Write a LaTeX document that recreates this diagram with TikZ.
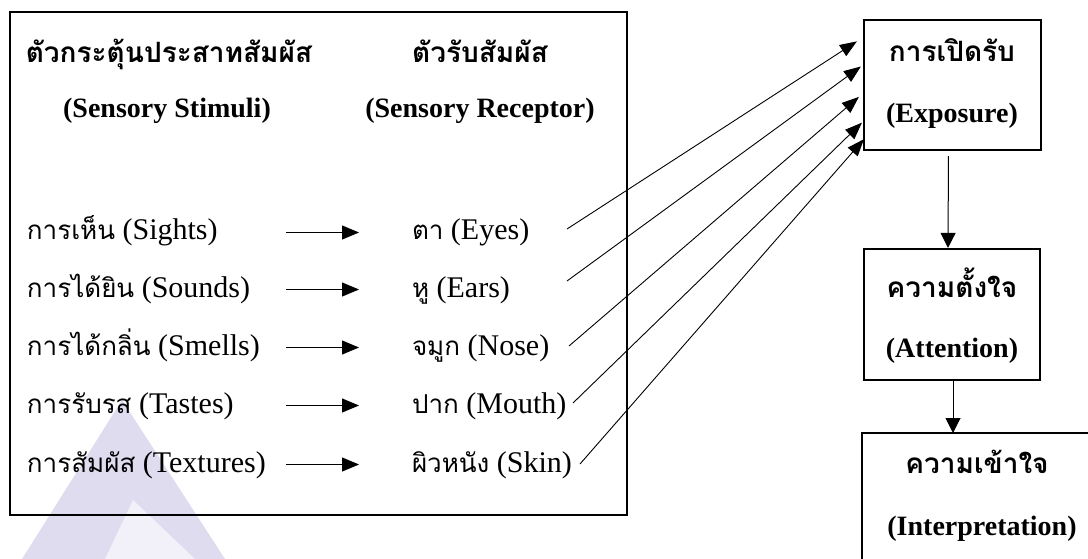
\documentclass[tikz,border=0pt]{standalone}
\usepackage{fontspec}
\setmainfont{Liberation Serif}
\newfontfamily\thai[Script=Thai]{Loma}
\usetikzlibrary{arrows.meta,calc}
\definecolor{wmA}{RGB}{224,220,240}
\definecolor{wmB}{RGB}{242,240,248}
\newcommand\thr[1]{{\thai\fontsize{26}{30}\selectfont #1}}
\newcommand\thb[1]{{\thai\bfseries\fontsize{28}{32}\selectfont #1}}
\tikzset{
 frame/.style={draw, line width=2.4pt, inner sep=0pt},
 box/.style={draw, line width=2.2pt, inner sep=0pt},
 row/.style={anchor=base west, inner sep=0pt, outer sep=0pt, text height=22pt, text depth=7pt, font=\fontsize{30}{36}\selectfont},
 head/.style={anchor=base, inner sep=0pt, font=\bfseries\fontsize{28}{34}\selectfont},
 smallarr/.style={-{Triangle[length=17pt,width=14pt]}, line width=1pt},
 longarr/.style={-{Triangle[length=17pt,width=13pt]}, line width=0.9pt},
 vertarr/.style={-{Triangle[length=15pt,width=15pt]}, line width=1pt},
}
\begin{document}
\begin{tikzpicture}[x=1pt,y=-1pt]
\useasboundingbox (0,0) rectangle (1088,559);
\fill[white] (0,0) rectangle (1088,559);
% watermark
\fill[wmA] (22,559) -- (122,400) -- (225,559) -- cycle;
\fill[wmB] (105,559) -- (133,500) -- (195,559) -- cycle;
% left frame
\node[frame, minimum width=617pt, minimum height=503pt] (frame) at (318.5,263.5) {};
\node[head] (h1) at (169,63) {\thb{ตัวกระตุ้นประสาทสัมผัส}};
\node[head] (h1e) at (167,118) {(Sensory Stimuli)};
\node[head] (h2) at (480,63) {\thb{ตัวรับสัมผัส}};
\node[head] (h2e) at (480,118) {(Sensory Receptor)};
% stimuli
\node[row] (s1) at (27,240) {\makebox[253pt][l]{\thr{การเห็น} (Sights)}};
\node[row] (s2) at (27,297) {\makebox[253pt][l]{\thr{การได้ยิน} (Sounds)}};
\node[row] (s3) at (27,355) {\makebox[253pt][l]{\thr{การได้กลิ่น} (Smells)}};
\node[row] (s4) at (27,413) {\makebox[253pt][l]{\thr{การรับรส} (Tastes)}};
\node[row] (s5) at (27,472) {\makebox[253pt][l]{\thr{การสัมผัส} (Textures)}};
% receptors
\node[row] (r1) at (412,240) {\thr{ตา} (Eyes)};
\node[row] (r2) at (412,297) {\thr{หู} (Ears)};
\node[row] (r3) at (412,355) {\thr{จมูก} (Nose)};
\node[row] (r4) at (412,413) {\thr{ปาก} (Mouth)};
\node[row] (r5) at (412,472) {\thr{ผิวหนัง} (Skin)};
\foreach \i in {1,...,5}{
  \draw[smallarr, shorten <=6pt, shorten >=53pt] (s\i.east) -- (r\i.west);
}
% right boxes
\node[box, minimum width=177pt, minimum height=130pt] (exp) at (952.5,85) {};
\node[head] (expT) at (952,62) {\thb{การเปิดรับ}};
\node[head] (expE) at (952,123) {(Exposure)};
\node[box, minimum width=176pt, minimum height=131pt] (att) at (952,314.5) {};
\node[head] (attT) at (952,297) {\thb{ความตั้งใจ}};
\node[head] (attE) at (952,357) {(Attention)};
\node[inner sep=0pt, minimum width=226pt, minimum height=126pt, anchor=north west] (int) at (862,433) {};
\draw[line width=2.4pt] (int.south west) -- (int.north west) -- (int.north east);
\node[head] (intT) at (977,473) {\thb{ความเข้าใจ}};
\node[head] (intE) at (982,535) {(Interpretation)};
% long arrows
\coordinate (o1) at (567,229);
\coordinate (o2) at (567,281);
\coordinate (o3) at (569,346);
\coordinate (o4) at (573,403);
\coordinate (o5) at (580,464);
\draw[longarr] (o1) -- ($(exp.north west)!0.17!(exp.south west)+(-6,0)$);
\draw[longarr] (o2) -- ($(exp.north west)!0.36!(exp.south west)+(-2,0)$);
\draw[longarr] (o3) -- ($(exp.north west)!0.59!(exp.south west)+(-4,0)$);
\draw[longarr] (o4) -- ($(exp.north west)!0.785!(exp.south west)+(-1,0)$);
\draw[longarr] (o5) -- ($(exp.north west)!0.91!(exp.south west)+(1,0)$);
% vertical arrows
\draw[vertarr, shorten <=5pt] ([xshift=-4pt]exp.south) -- ([xshift=-4pt]att.north);
\draw[vertarr] ([xshift=1pt]att.south) -- ([xshift=1pt]att.south |- int.north);
\end{tikzpicture}
\end{document}
